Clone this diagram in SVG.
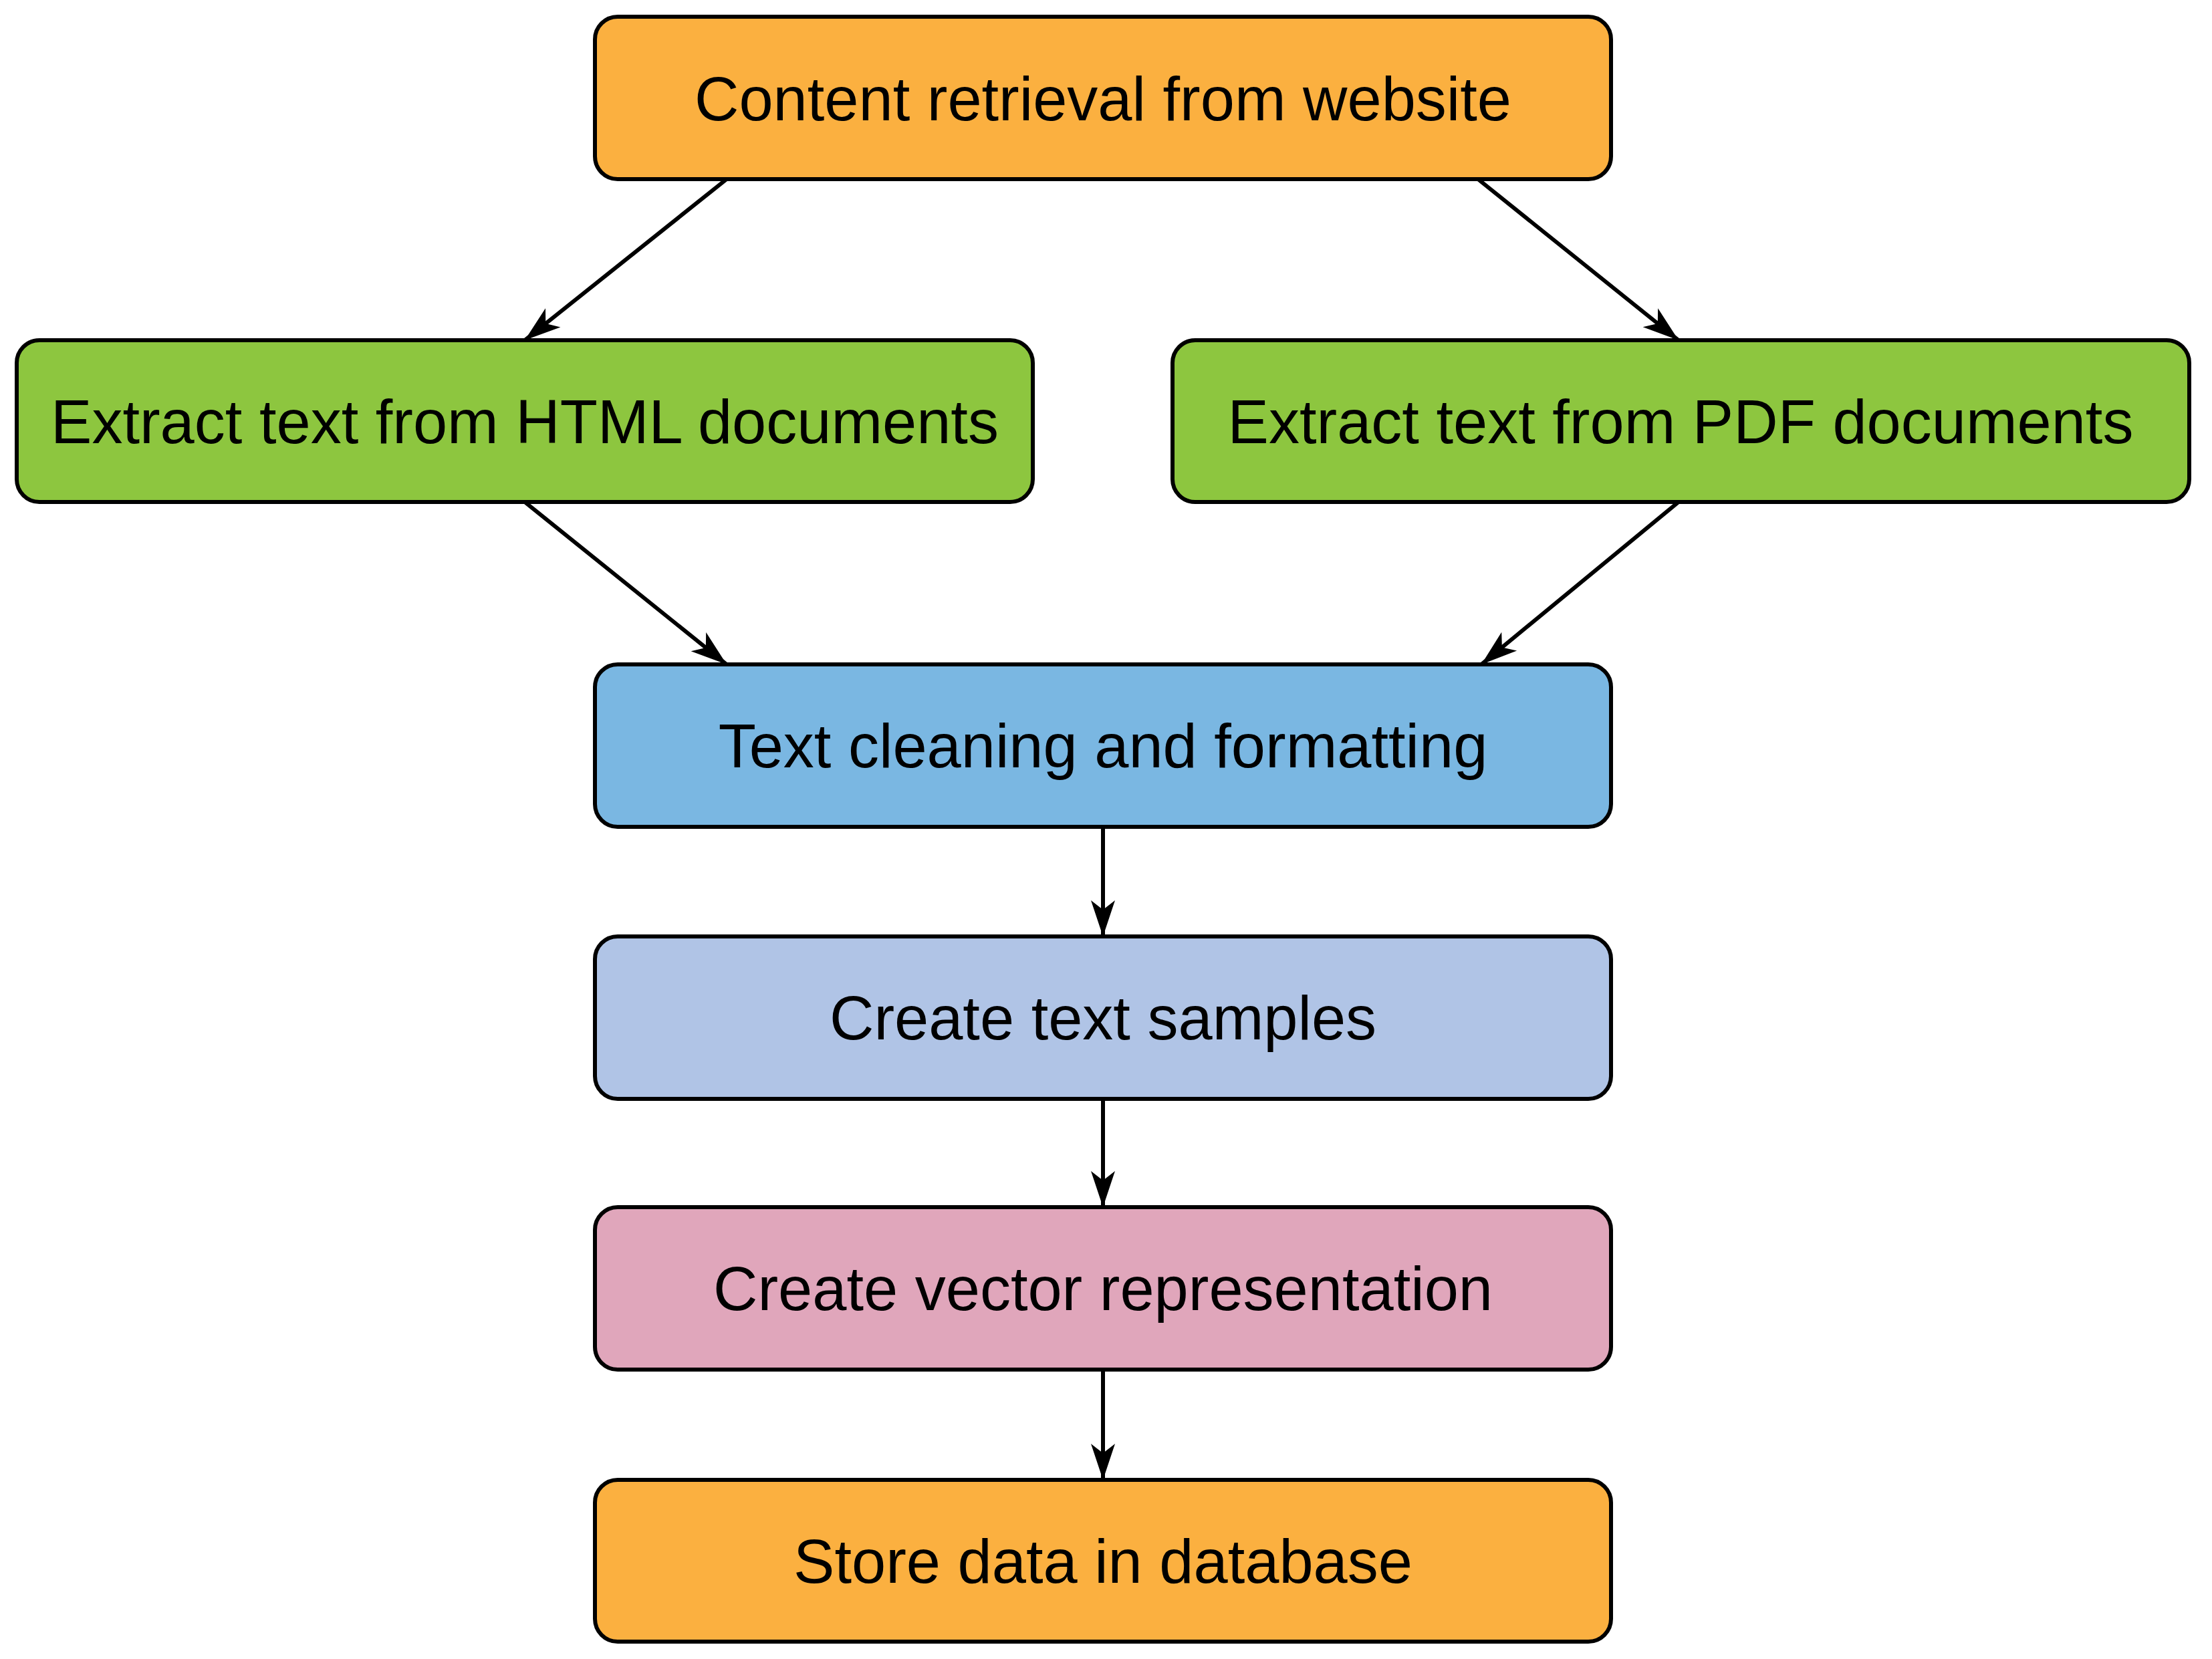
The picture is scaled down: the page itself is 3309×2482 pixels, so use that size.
<svg xmlns="http://www.w3.org/2000/svg" width="3309" height="2482" viewBox="0 0 3309 2482">
<style>
.n rect{stroke:#000;stroke-width:6}
.n text{font-family:"Liberation Sans",Arial,sans-serif;font-size:92px;text-anchor:middle;fill:#000}
.e line{stroke:#000;stroke-width:6;marker-end:url(#a)}
</style>
<defs>
<marker id="a" markerUnits="userSpaceOnUse" markerWidth="60" markerHeight="40" refX="54" refY="18" orient="auto" viewBox="0 0 60 36">
<path d="M0,0 L54,18 L0,36 L14,18 Z" fill="#000"/>
</marker>
</defs>
<rect width="3309" height="2482" fill="#fff"/>
<g class="e">
<line x1="1087" y1="268" x2="785" y2="509"/>
<line x1="2211" y1="268" x2="2511" y2="509"/>
<line x1="785" y1="751" x2="1087" y2="994"/>
<line x1="2511" y1="751" x2="2216" y2="994"/>
<line x1="1650" y1="1237" x2="1650" y2="1401"/>
<line x1="1650" y1="1644" x2="1650" y2="1806"/>
<line x1="1650" y1="2049" x2="1650" y2="2214"/>
</g>
<g id="n1" class="n"><rect x="890" y="25" width="1520" height="243" rx="34" fill="#fbb040"/><text x="1650" y="180">Content retrieval from website</text></g>
<g id="n2" class="n"><rect x="25" y="509" width="1520" height="242" rx="34" fill="#8dc63f"/><text x="785" y="663">Extract text from HTML documents</text></g>
<g id="n3" class="n"><rect x="1754" y="509" width="1521" height="242" rx="34" fill="#8dc63f"/><text x="2514" y="663">Extract text from PDF documents</text></g>
<g id="n4" class="n"><rect x="890" y="994" width="1520" height="243" rx="34" fill="#7ab7e2"/><text x="1650" y="1148">Text cleaning and formatting</text></g>
<g id="n5" class="n"><rect x="890" y="1401" width="1520" height="243" rx="34" fill="#b0c4e6"/><text x="1650" y="1555">Create text samples</text></g>
<g id="n6" class="n"><rect x="890" y="1806" width="1520" height="243" rx="34" fill="#e0a6bb"/><text x="1650" y="1960">Create vector representation</text></g>
<g id="n7" class="n"><rect x="890" y="2214" width="1520" height="242" rx="34" fill="#fbb040"/><text x="1650" y="2368">Store data in database</text></g>
</svg>
